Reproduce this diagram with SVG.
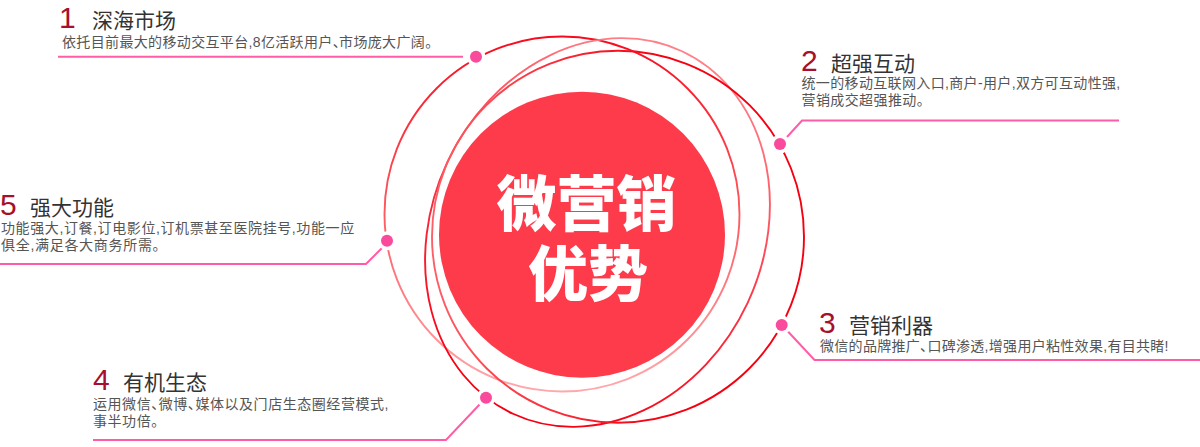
<svg xmlns="http://www.w3.org/2000/svg" width="1200" height="447" viewBox="0 0 1200 447">
<style>
text{font-family:"Liberation Sans","Noto Sans CJK SC",sans-serif}
.num{font-size:30px;fill:#a80f2d}
.tt{font-size:21px;fill:#333}
.bd{font-size:14px;fill:#555}
.big{font-family:"Noto Sans CJK SC",sans-serif;font-size:60px;font-weight:900;fill:#fff;text-anchor:middle}
.ring{fill:none;stroke-width:1.9}
.ln{fill:none;stroke:#ff5ca8;stroke-width:2}
.halo{fill:#fff}
.dot{fill:#fa4a9c}
</style>
<defs>
<linearGradient id="ga" gradientUnits="userSpaceOnUse" x1="0" y1="36" x2="0" y2="391"><stop offset="0" stop-color="#f80a1c"/><stop offset=".5" stop-color="#fd5a60"/><stop offset="1" stop-color="#ffa8ac"/></linearGradient>
<linearGradient id="gb" gradientUnits="userSpaceOnUse" x1="0" y1="38" x2="0" y2="427"><stop offset="0" stop-color="#ff8088"/><stop offset=".55" stop-color="#fb3040"/><stop offset="1" stop-color="#f50012"/></linearGradient>
<linearGradient id="gc" gradientUnits="userSpaceOnUse" x1="432" y1="0" x2="660" y2="0"><stop offset="0" stop-color="#fd6068"/><stop offset="1" stop-color="#f60010"/></linearGradient>
</defs>
<g id="rings">
<circle class="ring" cx="562" cy="214" r="177.5" stroke="url(#ga)"/>
<ellipse class="ring" cx="597.5" cy="232.5" rx="165.8" ry="200" transform="rotate(25 597.5 232.5)" stroke="url(#gb)"/>
<circle class="ring" cx="618" cy="236.7" r="186" stroke="url(#gc)"/>
</g>
<g id="center"><circle cx="582" cy="234.7" r="143" fill="#fd3b4b"/>
<text class="big" x="586.5" y="226">微营销</text>
<text class="big" x="588" y="296">优势</text></g>
<g id="connectors">
<path class="ln" d="M58 56.7H463"/>
<path class="ln" d="M787 137L802 120.5H1119"/>
<path class="ln" d="M787.5 331L814.5 360H1200"/>
<path class="ln" d="M93 440H446L481 403"/>
<path class="ln" d="M0 264H366L383 247"/>
</g>
<g id="node1"><circle class="halo" cx="476" cy="56.7" r="9.5"/><circle class="dot" cx="476" cy="56.7" r="6"/>
<text class="num" x="59" y="28">1</text><text class="tt" x="92" y="28">深海市场</text><text class="bd" x="62" y="47" letter-spacing=".35">依托目前最大的移动交互平台,8亿活跃用户、<tspan dx="-8">市场庞大广阔。</tspan></text></g>
<g id="node2"><circle class="halo" cx="780" cy="144" r="9.5"/><circle class="dot" cx="780" cy="144" r="6"/>
<text class="num" x="801" y="71">2</text><text class="tt" x="831" y="71">超强互动</text><text class="bd" x="801.5" y="88" letter-spacing=".35">统一的移动互联网入口,商户-用户,双方可互动性强,</text><text class="bd" x="801.5" y="105" letter-spacing=".4">营销成交超强推动。</text></g>
<g id="node3"><circle class="halo" cx="781.7" cy="325" r="9.5"/><circle class="dot" cx="781.7" cy="325" r="6"/>
<text class="num" x="819" y="333">3</text><text class="tt" x="849" y="333">营销利器</text><text class="bd" x="820" y="351" letter-spacing=".3">微信的品牌推广、<tspan dx="-7">口碑渗透,增强用户粘性效果,有目共睹!</tspan></text></g>
<g id="node4"><circle class="halo" cx="486" cy="397.7" r="9.5"/><circle class="dot" cx="486" cy="397.7" r="6"/>
<text class="num" x="93" y="390">4</text><text class="tt" x="123" y="390">有机生态</text><text class="bd" x="93" y="409" letter-spacing=".55">运用微信、<tspan dx="-7">微博、</tspan><tspan dx="-7">媒体以及门店生态圈经营模式,</tspan></text><text class="bd" x="93" y="426" letter-spacing=".55">事半功倍。</text></g>
<g id="node5"><circle class="halo" cx="387" cy="240.7" r="9.5"/><circle class="dot" cx="387" cy="240.7" r="6"/>
<text class="num" x="0" y="215">5</text><text class="tt" x="30" y="215">强大功能</text><text class="bd" x="1" y="233" letter-spacing=".6">功能强大,订餐,订电影位,订机票甚至医院挂号,功能一应</text><text class="bd" x="1" y="250" letter-spacing=".7">俱全,满足各大商务所需。</text></g>
</svg>
